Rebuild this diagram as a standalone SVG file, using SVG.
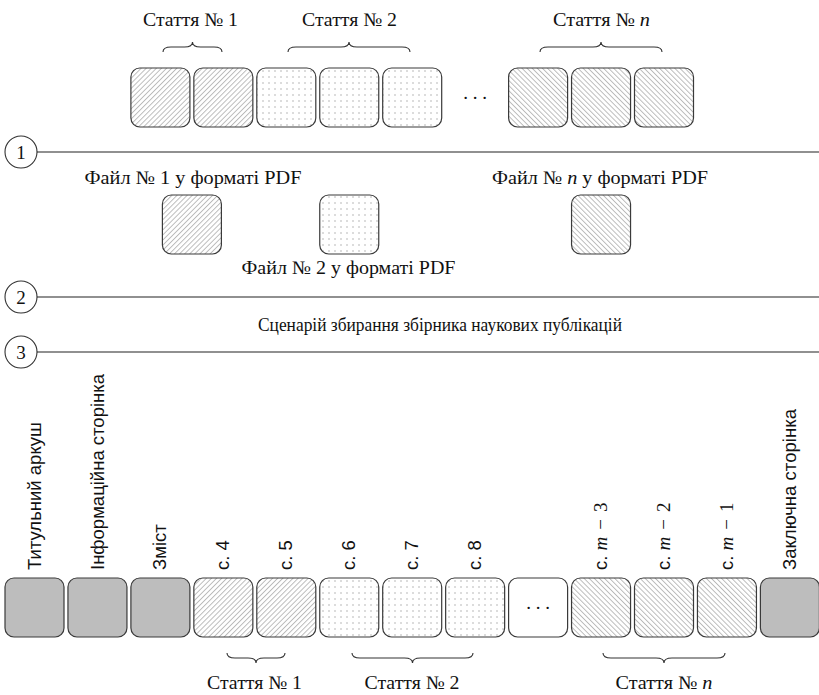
<svg xmlns="http://www.w3.org/2000/svg" width="819" height="695" viewBox="0 0 819 695" font-family="'Liberation Serif', 'Times New Roman', Times, 'DejaVu Serif', serif">
<defs>
  <pattern id="hatchR" patternUnits="userSpaceOnUse" width="3.6" height="3.6" patternTransform="rotate(45)">
    <line x1="0.5" y1="0" x2="0.5" y2="3.6" stroke="#ababab" stroke-width="0.8"/>
  </pattern>
  <pattern id="hatchL" patternUnits="userSpaceOnUse" width="3.6" height="3.6" patternTransform="rotate(-45)">
    <line x1="0.5" y1="0" x2="0.5" y2="3.6" stroke="#ababab" stroke-width="0.8"/>
  </pattern>
  <pattern id="dots" patternUnits="userSpaceOnUse" width="6" height="6" x="2" y="2">
    <circle cx="3" cy="3" r="0.75" fill="#a8a8a8"/>
  </pattern>
</defs>
<style>
  .box { stroke: #3a3a3a; stroke-width: 1.2; }
  .a1 { fill: url(#hatchR); }
  .a2 { fill: url(#dots); }
  .an { fill: url(#hatchL); }
  .gr { fill: #bdbdbd; }
  .wh { fill: #ffffff; }
  .t { font-size: 19px; fill: #111; }
  .c { text-anchor: middle; }
  .r { font-size: 18.5px; fill: #111; }
  .m { font-style: italic; }
  .sf { font-family: "Liberation Serif", "Times New Roman", serif; font-size: 19px; }
  .brace { fill: none; stroke: #333; stroke-width: 1.1; }
  .sep { stroke: #222; stroke-width: 1.2; fill: none; }
</style>

<!-- Top row: article pages -->
<g id="top-row">
  <rect class="box a1" x="130.9" y="68" width="59" height="59" rx="9"/>
  <rect class="box a1" x="193.85" y="68" width="59" height="59" rx="9"/>
  <rect class="box a2" x="256.8" y="68" width="59" height="59" rx="9"/>
  <rect class="box a2" x="319.75" y="68" width="59" height="59" rx="9"/>
  <rect class="box a2" x="382.7" y="68" width="59" height="59" rx="9"/>
  <text class="t c" x="475" y="99">. . .</text>
  <rect class="box an" x="508.6" y="68" width="59" height="59" rx="9"/>
  <rect class="box an" x="571.55" y="68" width="59" height="59" rx="9"/>
  <rect class="box an" x="634.5" y="68" width="59" height="59" rx="9"/>
</g>
<g id="top-braces">
  <path class="brace" d="M163,52 q0,-5 8,-5 h13.5 q8,0 8,-5 q0,5 8,5 h13.5 q8,0 8,5"/>
  <path class="brace" d="M288,52 q0,-5 8,-5 h45 q8,0 8,-5 q0,5 8,5 h45 q8,0 8,5"/>
  <path class="brace" d="M540,52 q0,-5 8,-5 h45 q8,0 8,-5 q0,5 8,5 h45 q8,0 8,5"/>
  <text class="t c" x="190.5" y="26" textLength="95" lengthAdjust="spacingAndGlyphs">Стаття № 1</text>
  <text class="t c" x="349.5" y="26" textLength="95" lengthAdjust="spacingAndGlyphs">Стаття № 2</text>
  <text class="t c" x="601.5" y="26" textLength="97" lengthAdjust="spacingAndGlyphs">Стаття № <tspan class="m">n</tspan></text>
</g>

<!-- Step separators -->
<g id="step1">
  <circle cx="21" cy="152" r="16" fill="#fff" stroke="#333" stroke-width="1.1"/>
  <text class="t c" x="21" y="158.5">1</text>
  <line class="sep" x1="37" y1="152" x2="819" y2="152"/>
</g>
<g id="step2">
  <circle cx="21" cy="297" r="16" fill="#fff" stroke="#333" stroke-width="1.1"/>
  <text class="t c" x="21" y="303.5">2</text>
  <line class="sep" x1="37" y1="297" x2="819" y2="297"/>
</g>
<g id="step3">
  <circle cx="21" cy="352" r="16" fill="#fff" stroke="#333" stroke-width="1.1"/>
  <text class="t c" x="21" y="358.5">3</text>
  <line class="sep" x1="37" y1="352" x2="819" y2="352"/>
</g>

<!-- PDF files -->
<g id="file1">
  <text class="t c" x="193" y="184" textLength="217" lengthAdjust="spacingAndGlyphs">Файл № 1 у форматі PDF</text>
  <rect class="box a1" x="162.4" y="195" width="59" height="59" rx="9"/>
</g>
<g id="file2">
  <rect class="box a2" x="319.75" y="195" width="59" height="59" rx="9"/>
  <text class="t c" x="348.5" y="274" textLength="214" lengthAdjust="spacingAndGlyphs">Файл № 2 у форматі PDF</text>
</g>
<g id="filen">
  <text class="t c" x="600" y="184" textLength="216" lengthAdjust="spacingAndGlyphs">Файл № <tspan class="m">n</tspan> у форматі PDF</text>
  <rect class="box an" x="571.55" y="195" width="59" height="59" rx="9"/>
</g>

<g id="scenario">
  <text class="t c" x="440" y="331" textLength="364" lengthAdjust="spacingAndGlyphs">Сценарій збирання збірника наукових публікацій</text>
</g>

<!-- Bottom row: collection pages -->
<g id="bottom-row" font-family="'Liberation Sans', Arial, 'DejaVu Sans', sans-serif">
  <g id="p-title"><rect class="box gr" x="5" y="578" width="59" height="59" rx="9"/>
    <text class="r" transform="translate(40.5,570) rotate(-90)">Титульний аркуш</text></g>
  <g id="p-info"><rect class="box gr" x="67.95" y="578" width="59" height="59" rx="9"/>
    <text class="r" transform="translate(103.5,570) rotate(-90)">Інформаційна сторінка</text></g>
  <g id="p-toc"><rect class="box gr" x="130.9" y="578" width="59" height="59" rx="9"/>
    <text class="r" transform="translate(166.4,570) rotate(-90)">Зміст</text></g>
  <g id="p4"><rect class="box a1" x="193.85" y="578" width="59" height="59" rx="9"/>
    <text class="r" transform="translate(229.4,570) rotate(-90)">с. 4</text></g>
  <g id="p5"><rect class="box a1" x="256.8" y="578" width="59" height="59" rx="9"/>
    <text class="r" transform="translate(292.3,570) rotate(-90)">с. 5</text></g>
  <g id="p6"><rect class="box a2" x="319.75" y="578" width="59" height="59" rx="9"/>
    <text class="r" transform="translate(355.3,570) rotate(-90)">с. 6</text></g>
  <g id="p7"><rect class="box a2" x="382.7" y="578" width="59" height="59" rx="9"/>
    <text class="r" transform="translate(418.2,570) rotate(-90)">с. 7</text></g>
  <g id="p8"><rect class="box a2" x="445.65" y="578" width="59" height="59" rx="9"/>
    <text class="r" transform="translate(481.2,570) rotate(-90)">с. 8</text></g>
  <g id="p-dots"><rect class="box wh" x="508.6" y="578" width="59" height="59" rx="9"/>
    <text class="t c sf" x="538" y="609">. . .</text></g>
  <g id="pm3"><rect class="box an" x="571.55" y="578" width="59" height="59" rx="9"/>
    <text class="r" transform="translate(607,570) rotate(-90)">с. <tspan class="sf m">m</tspan><tspan class="sf" dx="7">−</tspan><tspan class="sf" dx="7">3</tspan></text></g>
  <g id="pm2"><rect class="box an" x="634.5" y="578" width="59" height="59" rx="9"/>
    <text class="r" transform="translate(670,570) rotate(-90)">с. <tspan class="sf m">m</tspan><tspan class="sf" dx="7">−</tspan><tspan class="sf" dx="7">2</tspan></text></g>
  <g id="pm1"><rect class="box an" x="697.45" y="578" width="59" height="59" rx="9"/>
    <text class="r" transform="translate(733,570) rotate(-90)">с. <tspan class="sf m">m</tspan><tspan class="sf" dx="7">−</tspan><tspan class="sf" dx="7">1</tspan></text></g>
  <g id="p-end"><rect class="box gr" x="760.4" y="578" width="59" height="59" rx="9"/>
    <text class="r" transform="translate(796,570) rotate(-90)" textLength="161" lengthAdjust="spacingAndGlyphs">Заключна сторінка</text></g>
</g>
<g id="bottom-braces">
  <path class="brace" d="M227,653 q0,5 8,5 h13 q8,0 8,5 q0,-5 8,-5 h13 q8,0 8,-5"/>
  <path class="brace" d="M352,653 q0,5 8,5 h44.5 q8,0 8,5 q0,-5 8,-5 h44.5 q8,0 8,-5"/>
  <path class="brace" d="M603,653 q0,5 8,5 h45 q8,0 8,5 q0,-5 8,-5 h45 q8,0 8,-5"/>
  <text class="t c" x="254.5" y="689" textLength="95" lengthAdjust="spacingAndGlyphs">Стаття № 1</text>
  <text class="t c" x="412" y="689" textLength="95" lengthAdjust="spacingAndGlyphs">Стаття № 2</text>
  <text class="t c" x="664" y="689" textLength="97" lengthAdjust="spacingAndGlyphs">Стаття № <tspan class="m">n</tspan></text>
</g>
</svg>
